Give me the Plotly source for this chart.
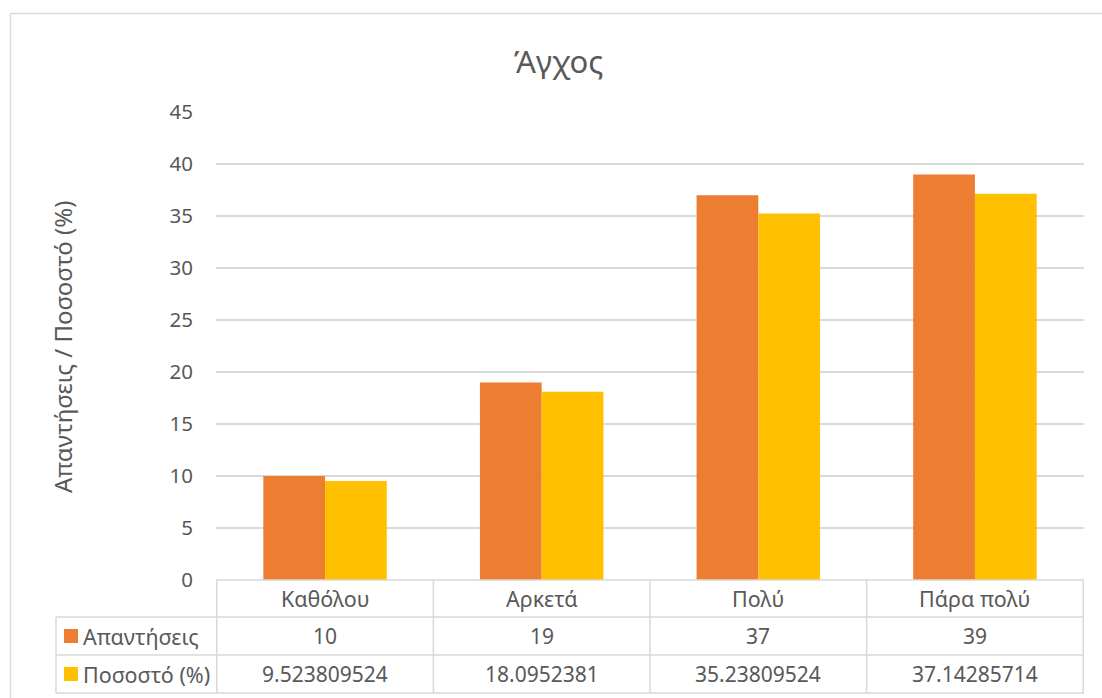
import plotly.graph_objects as go

# Survey data
categories = ["Καθόλου", "Αρκετά", "Πολύ", "Πάρα πολύ"]
responses = [10, 19, 37, 39]
percent = [9.523809524, 18.0952381, 35.23809524, 37.14285714]
series_names = ["Απαντήσεις", "Ποσοστό (%)"]
y_ticks = [0, 5, 10, 15, 20, 25, 30, 35, 40, 45]

W, H = 1102, 698
ORANGE = "#ED7D31"
YELLOW = "#FFC000"
TEXT = "#595959"
GRID = "#D9D9D9"
FONT = "Noto Sans"


def fx(px):
    return px / W


def fy(py):
    return 1 - py / H


# plot area in pixels
PL, PR, PT, PB = 216, 1084, 112, 580

fig = go.Figure()
fig.add_trace(go.Bar(x=categories, y=responses, name=series_names[0],
                     marker=dict(color=ORANGE, line=dict(width=0))))
fig.add_trace(go.Bar(x=categories, y=percent, name=series_names[1],
                     marker=dict(color=YELLOW, line=dict(width=0))))

shapes = []
annotations = []


def label(x, y, text, size, xref="paper", xanchor="center", angle=0):
    annotations.append(dict(x=x, xref=xref, y=y, yref="paper", text=text,
                            showarrow=False, xanchor=xanchor,
                            yanchor="middle", textangle=angle,
                            font=dict(family=FONT, size=size, color=TEXT)))


# outer chart border
shapes.append(dict(type="rect", xref="paper", yref="paper",
                   x0=fx(10.5), x1=fx(1120), y0=fy(720), y1=fy(13.5),
                   line=dict(color=GRID, width=1.5), fillcolor="rgba(0,0,0,0)",
                   layer="below"))

# data table grid
row_y = [580, 617, 655, 693]
for i, yy in enumerate(row_y):
    x0 = PL if i == 0 else 56
    shapes.append(dict(type="line", xref="paper", yref="paper",
                       x0=fx(x0), x1=fx(PR), y0=fy(yy), y1=fy(yy),
                       line=dict(color=GRID, width=1.5)))
shapes.append(dict(type="line", xref="paper", yref="paper",
                   x0=fx(56), x1=fx(56), y0=fy(617), y1=fy(693),
                   line=dict(color=GRID, width=1.5)))
for k in range(len(categories) + 1):
    shapes.append(dict(type="line", xref="x", yref="paper",
                       x0=k - 0.5, x1=k - 0.5, y0=fy(580), y1=fy(693),
                       line=dict(color=GRID, width=1.5)))

# category row
for c in categories:
    label(c, fy(598.5), c, 21.5, xref="x")

# series rows with legend keys
row_centers = [636, 674]
colors = [ORANGE, YELLOW]
values = [responses, percent]
for name, col, yc, vals in zip(series_names, colors, row_centers, values):
    shapes.append(dict(type="rect", xref="paper", yref="paper",
                       x0=fx(64), x1=fx(78), y0=fy(yc + 7), y1=fy(yc - 7),
                       fillcolor=col, line=dict(width=0)))
    label(fx(81), fy(yc), name, 21.5, xanchor="left")
    for c, v in zip(categories, vals):
        label(c, fy(yc), f"{v:.10g}", 21, xref="x")

# title and y-axis title
label(fx(558), fy(61), "Άγχος", 31)
label(fx(62), fy(347), "Απαντήσεις / Ποσοστό (%)", 24, angle=-90)

fig.update_layout(
    width=W, height=H,
    margin=dict(l=0, r=0, t=0, b=0, autoexpand=False),
    paper_bgcolor="white", plot_bgcolor="white",
    showlegend=False,
    barmode="group", bargap=0.43, bargroupgap=0,
    shapes=shapes, annotations=annotations,
    xaxis=dict(domain=[fx(PL), fx(PR)], showticklabels=False, showgrid=False,
               zeroline=False, showline=False, ticks="", automargin=False),
    yaxis=dict(domain=[fy(PB), fy(PT)], range=[0, 45], tickvals=y_ticks,
               showgrid=True, gridcolor=GRID, gridwidth=1.5, zeroline=False,
               showline=False, ticks="", ticklabelstandoff=22,
               automargin=False,
               tickfont=dict(family=FONT, size=20.5, color=TEXT)),
)

fig.write_html("out.html")
